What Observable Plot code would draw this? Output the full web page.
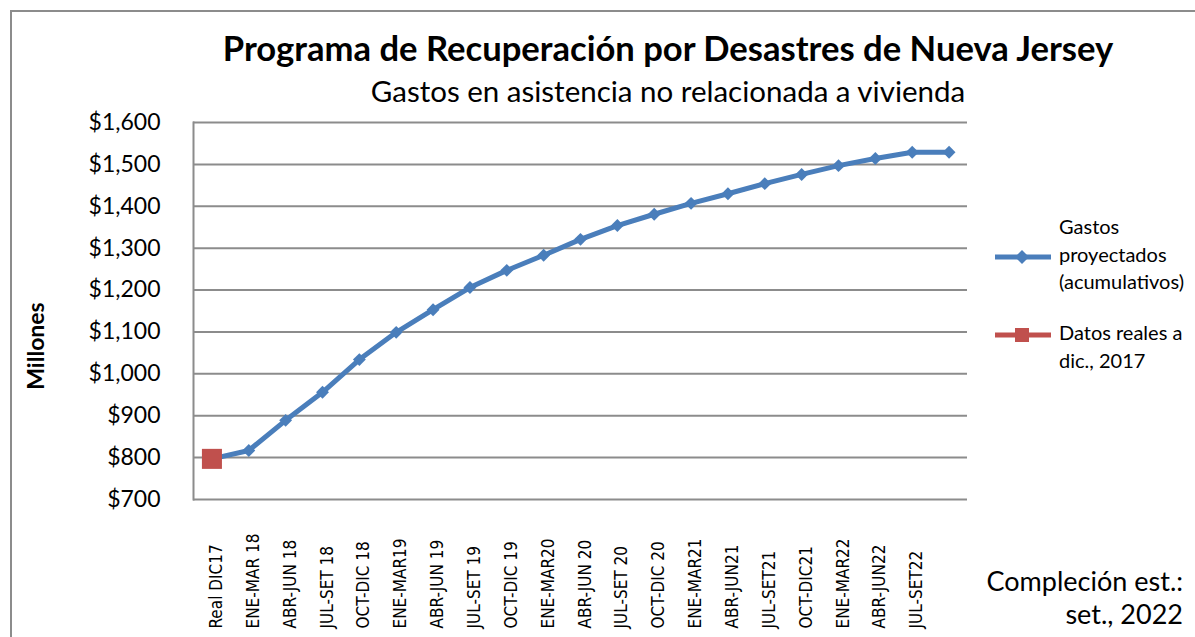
<!DOCTYPE html>
<html>
<head>
<meta charset="utf-8">
<script src="https://cdn.jsdelivr.net/npm/d3@7"></script>
<script src="https://cdn.jsdelivr.net/npm/@observablehq/plot@0.6"></script>
<style>
  html, body { margin: 0; padding: 0; background: #fff; overflow: hidden; }
  body { width: 1195px; height: 637px; position: relative; font-family: Lato, "Open Sans", sans-serif; color: #000; }
  #border { position: absolute; left: 10px; top: 10px; width: 1300px; height: 800px; border: 2px solid #8c8c8c; box-sizing: border-box; }
  #chart { position: absolute; left: 0; top: 0; }
  .title { position: absolute; left: 0; width: 1336px; text-align: center; white-space: nowrap; }
  #t1 { top: 27px; font-size: 34.6px; font-weight: 700; }
  #t2 { top: 73px; font-size: 29.5px; font-weight: 400; }
  #millones { position: absolute; left: 35px; top: 346px; transform: translate(-50%, -50%) rotate(-90deg); font-size: 23px; font-weight: 700; white-space: nowrap; }
  .sw { position: absolute; left: 995px; }
  .legtxt { position: absolute; left: 1059px; font-size: 20px; line-height: 27.5px; white-space: nowrap; }
  #caption { position: absolute; right: 12px; top: 565px; text-align: right; font-size: 27px; line-height: 32.5px; white-space: nowrap; }
</style>
</head>
<body>
<div id="border"></div>
<div id="chart"></div>
<div class="title" id="t1"></div>
<div class="title" id="t2"></div>
<div id="millones"></div>
<div class="sw" id="sw1" style="top:249px"></div>
<div class="legtxt" id="lt1" style="top:213px"></div>
<div class="sw" id="sw2" style="top:327px"></div>
<div class="legtxt" id="lt2" style="top:319px"></div>
<div id="caption"></div>
<script>
const titleText = "Programa de Recuperación por Desastres de Nueva Jersey";
const subtitleText = "Gastos en asistencia no relacionada a vivienda";
const yAxisLabel = "Millones";
const captionLines = ["Compleción est.:", "set., 2022"];
const categories = ["Real DIC17","ENE-MAR 18","ABR-JUN 18","JUL-SET 18","OCT-DIC 18","ENE-MAR19","ABR-JUN 19","JUL-SET 19","OCT-DIC 19","ENE-MAR20","ABR-JUN 20","JUL-SET 20","OCT-DIC 20","ENE-MAR21","ABR-JUN21","JUL-SET21","OCT-DIC21","ENE-MAR22","ABR-JUN22","JUL-SET22",""];
const projected = [797, 817, 889, 956, 1034, 1099, 1153, 1206, 1247, 1283, 1321, 1354, 1381, 1407, 1430, 1454, 1476, 1497, 1514, 1529, 1529];
const actualCategories = ["Real DIC17"];
const actualValues = [797];
const yTicks = [700, 800, 900, 1000, 1100, 1200, 1300, 1400, 1500, 1600];
const seriesNames = [["Gastos", "proyectados", "(acumulativos)"], ["Datos reales a", "dic., 2017"]];
const colors = ["#4a7ebb", "#c0504d"];

const projData = categories.map((c, i) => ({cat: c, value: projected[i]}));
const actData = actualCategories.map((c, i) => ({cat: c, value: actualValues[i]}));
const fmt = v => "$" + d3.format(",")(v);

const plot = Plot.plot({
  width: 1195,
  height: 637,
  marginLeft: 193,
  marginRight: 228,
  marginTop: 122,
  marginBottom: 138,
  style: {fontFamily: "Lato, 'Open Sans', sans-serif", background: "transparent", overflow: "visible"},
  x: {type: "band", domain: categories, padding: 0, round: false, axis: null},
  y: {domain: [700, 1600], axis: null},
  marks: [
    Plot.ruleY(yTicks, {stroke: "#8c8c8c", strokeWidth: 2}),
    Plot.frame({anchor: "left", stroke: "#8c8c8c", strokeWidth: 2}),
    Plot.axisY({ticks: yTicks, tickFormat: fmt, tickSize: 0, tickPadding: 33, fontSize: 23, fill: "#000", label: null, fontFamily: "Lato, sans-serif"}),
    Plot.text(categories, {x: d => d, frameAnchor: "bottom", dx: 10, dy: 129, rotate: -90, textAnchor: "start", text: d => d,
      fontSize: 17, fontFamily: "'Liberation Sans Narrow', 'DejaVu Sans Condensed', sans-serif", fill: "#000", letterSpacing: "-0.8px"}),
    Plot.line(projData, {x: "cat", y: "value", stroke: colors[0], strokeWidth: 5}),
    Plot.dot(projData, {x: "cat", y: "value", symbol: "diamond2", r: 5.8, fill: colors[0], stroke: "none"}),
    Plot.dot(actData, {x: "cat", y: "value", symbol: "square", r: 11.3, fill: colors[1], stroke: "none"})
  ]
});
document.getElementById("chart").appendChild(plot);

document.getElementById("t1").textContent = titleText;
document.getElementById("t2").textContent = subtitleText;
document.getElementById("millones").textContent = yAxisLabel;
document.getElementById("caption").innerHTML = captionLines.map(l => `<div>${l}</div>`).join("");

function swatch(color, sym) {
  return sym === "diamond"
    ? `<svg width="56" height="16" style="display:block"><line x1="0" y1="8" x2="56" y2="8" stroke="${color}" stroke-width="5"/><path d="M27,1 L34,8 L27,15 L20,8Z" fill="${color}"/></svg>`
    : `<svg width="56" height="16" style="display:block"><line x1="0" y1="8" x2="56" y2="8" stroke="${color}" stroke-width="5"/><rect x="20" y="1" width="14" height="14" fill="${color}"/></svg>`;
}
document.getElementById("sw1").innerHTML = swatch(colors[0], "diamond");
document.getElementById("sw2").innerHTML = swatch(colors[1], "square");
document.getElementById("lt1").innerHTML = seriesNames[0].map(l => `<div>${l}</div>`).join("");
document.getElementById("lt2").innerHTML = seriesNames[1].map(l => `<div>${l}</div>`).join("");
</script>
</body>
</html>
